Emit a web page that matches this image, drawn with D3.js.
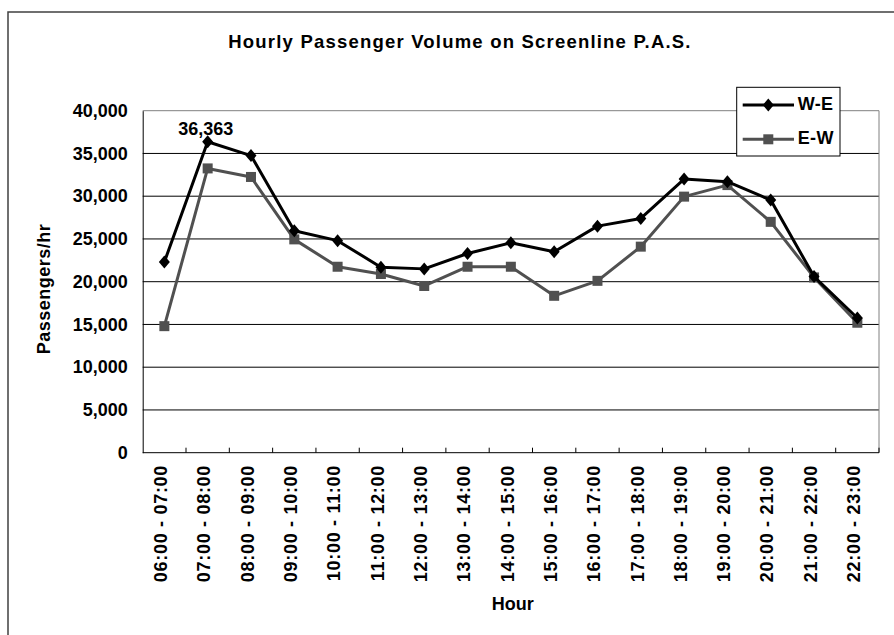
<!DOCTYPE html>
<html><head><meta charset="utf-8">
<script src="https://cdn.jsdelivr.net/npm/d3@7"></script>
<style>
html,body{margin:0;padding:0;background:#fff;}
svg{display:block;font-family:"Liberation Sans",Arial,sans-serif;font-weight:bold;}
</style></head>
<body>
<svg id="chart" width="894" height="635"></svg>
<script>
const categories = ["06:00 - 07:00","07:00 - 08:00","08:00 - 09:00","09:00 - 10:00","10:00 - 11:00","11:00 - 12:00","12:00 - 13:00","13:00 - 14:00","14:00 - 15:00","15:00 - 16:00","16:00 - 17:00","17:00 - 18:00","18:00 - 19:00","19:00 - 20:00","20:00 - 21:00","21:00 - 22:00","22:00 - 23:00"];
const weValues = [22300, 36363, 34750, 25950, 24800, 21700, 21500, 23300, 24550, 23500, 26500, 27400, 32000, 31700, 29550, 20600, 15750];
const ewValues = [14800, 33250, 32250, 24950, 21750, 20900, 19500, 21750, 21750, 18350, 20100, 24100, 29950, 31300, 27000, 20500, 15200];
const yTicks = [0, 5000, 10000, 15000, 20000, 25000, 30000, 35000, 40000];
const seriesNames = ["W-E", "E-W"];
const titleText = "Hourly Passenger Volume on Screenline P.A.S.";

const svg = d3.select("#chart");
const L = 142.7, R = 879, T = 110.7, B = 452.7;
const fs = 18;

// outer frame
svg.append("rect").attr("x", 8).attr("y", 12).attr("width", 920).attr("height", 660)
  .attr("fill", "none").attr("stroke", "#404040").attr("stroke-width", 1.5);

svg.append("text").attr("x", 460).attr("y", 48).attr("text-anchor", "middle")
  .attr("font-size", 18.5).attr("letter-spacing", 1.2).text(titleText);

const x = d3.scaleBand().domain(categories).range([L, R]).padding(0);
const y = d3.scaleLinear().domain([0, 40000]).range([B, T]);

// gridlines
svg.append("g").selectAll("line").data(yTicks.filter(d => d > 0)).join("line")
  .attr("x1", L).attr("x2", R).attr("y1", d => y(d)).attr("y2", d => y(d))
  .attr("stroke", d => d === 40000 ? "#808080" : "#000").attr("stroke-width", 1);

// right border
svg.append("line").attr("x1", R).attr("x2", R).attr("y1", T).attr("y2", B)
  .attr("stroke", "#808080").attr("stroke-width", 1);

// y axis
const yAxis = d3.axisLeft(y).tickValues(yTicks).tickSize(0).tickPadding(15)
  .tickFormat(d3.format(","));
const gy = svg.append("g").attr("transform", `translate(${L},0)`).call(yAxis);
gy.select(".domain").attr("stroke", "#000");
gy.selectAll("text").attr("font-size", fs).attr("font-family", null).attr("fill", "#000");

// x axis
const boundaries = d3.range(1, categories.length + 1).map(i => L + i * x.bandwidth());
const gx = svg.append("g");
gx.append("line").attr("x1", L).attr("x2", R).attr("y1", B).attr("y2", B).attr("stroke", "#000");
gx.selectAll("line.tick").data(boundaries).join("line").attr("class", "tick")
  .attr("x1", d => d).attr("x2", d => d).attr("y1", B).attr("y2", B - 5).attr("stroke", "#000");
gx.selectAll("text").data(categories).join("text")
  .attr("transform", d => `translate(${x(d) + x.bandwidth() / 2 - 2},465) rotate(-90)`)
  .attr("text-anchor", "end").attr("font-size", fs).attr("letter-spacing", 0.7)
  .attr("dominant-baseline", "middle").text(d => d);

// axis titles
svg.append("text").attr("transform", `translate(45,289) rotate(-90)`).attr("text-anchor", "middle")
  .attr("dominant-baseline", "middle").attr("font-size", fs).attr("letter-spacing", 0.5).text("Passengers/hr");
svg.append("text").attr("x", (L + R) / 2 + 2).attr("y", 610).attr("text-anchor", "middle")
  .attr("font-size", fs).text("Hour");

const cx = (d, i) => x(categories[i]) + x.bandwidth() / 2;
const line = d3.line().x((d, i) => cx(d, i)).y(d => y(d));

const ewColor = "#505050";
svg.append("path").datum(ewValues).attr("d", line).attr("fill", "none")
  .attr("stroke", ewColor).attr("stroke-width", 3).attr("stroke-linejoin", "round");
svg.append("g").selectAll("rect").data(ewValues).join("rect")
  .attr("x", (d, i) => cx(d, i) - 5).attr("y", d => y(d) - 5).attr("width", 10).attr("height", 10)
  .attr("fill", ewColor);

svg.append("path").datum(weValues).attr("d", line).attr("fill", "none")
  .attr("stroke", "#000").attr("stroke-width", 3).attr("stroke-linejoin", "round");
const diamond = "M0,-6.5L5.5,0L0,6.5L-5.5,0Z";
svg.append("g").selectAll("path").data(weValues).join("path")
  .attr("transform", (d, i) => `translate(${cx(d, i)},${y(d)})`).attr("d", diamond).attr("fill", "#000");

// data label
const maxI = weValues.indexOf(d3.max(weValues));
svg.append("text").attr("x", cx(null, maxI) - 2).attr("y", y(weValues[maxI]) - 7)
  .attr("text-anchor", "middle").attr("font-size", fs).text(d3.format(",")(weValues[maxI]));

// legend
const lg = svg.append("g");
lg.append("rect").attr("x", 736.7).attr("y", 87.3).attr("width", 103.3).attr("height", 68.7)
  .attr("fill", "#fff").attr("stroke", "#000").attr("stroke-width", 1);
const lRows = [{name: seriesNames[0], y: 105, c: "#000", m: "d"}, {name: seriesNames[1], y: 139.3, c: ewColor, m: "s"}];
lRows.forEach(r => {
  lg.append("line").attr("x1", 742.7).attr("x2", 794).attr("y1", r.y).attr("y2", r.y)
    .attr("stroke", r.c).attr("stroke-width", 3);
  if (r.m === "d") lg.append("path").attr("transform", `translate(768.3,${r.y})`).attr("d", diamond).attr("fill", r.c);
  else lg.append("rect").attr("x", 763.3).attr("y", r.y - 5).attr("width", 10).attr("height", 10).attr("fill", r.c);
  lg.append("text").attr("x", 797.7).attr("y", r.y).attr("dominant-baseline", "middle")
    .attr("font-size", fs).attr("letter-spacing", 0.4).text(r.name);
});
</script>
</body></html>
